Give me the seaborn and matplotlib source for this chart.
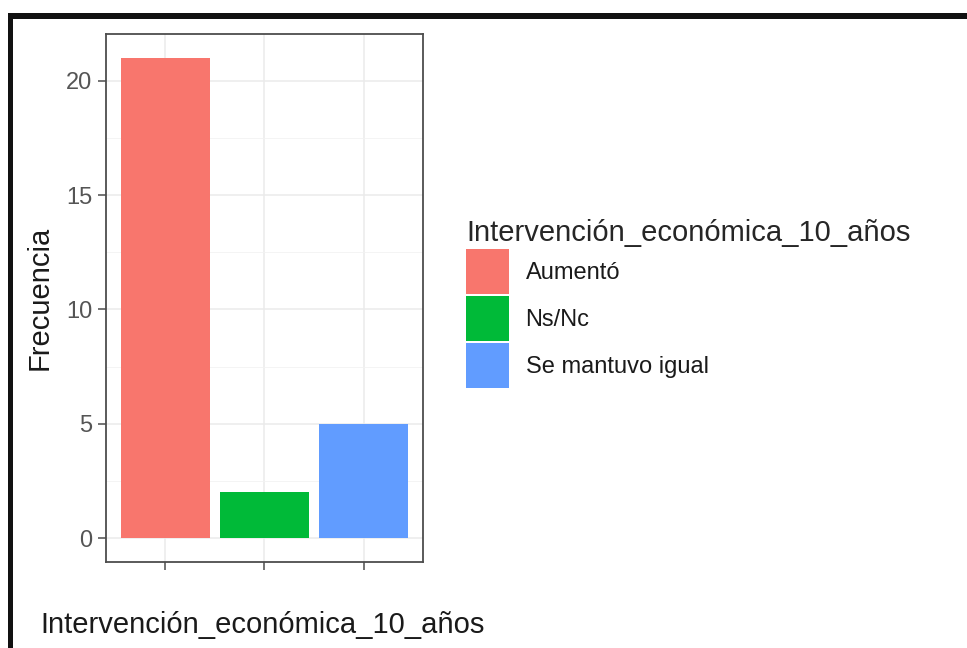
import matplotlib
matplotlib.use("Agg")
import matplotlib.pyplot as plt
from matplotlib.patches import Rectangle, Patch
from matplotlib.ticker import MultipleLocator
import seaborn as sns
import pandas as pd

# Survey answers and their counts
categorias = ["Aumentó", "Ns/Nc", "Se mantuvo igual"]
frecuencias = [21, 2, 5]
colores = ["#F8766D", "#00BA38", "#619CFF"]
variable = "Intervención_económica_10_años"
ticks_y = [0, 5, 10, 15, 20]

sns.set_theme(style="white")
plt.rcParams["font.family"] = ["Liberation Sans", "DejaVu Sans"]

df = pd.DataFrame({variable: categorias, "Frecuencia": frecuencias})

fig = plt.figure(figsize=(9.67, 6.48), dpi=100)
ax = fig.add_axes([0.1096, 0.1327, 0.3278, 0.8148])

sns.barplot(data=df, x=variable, y="Frecuencia", hue=variable,
            palette=colores, order=categorias, hue_order=categorias,
            width=0.9, saturation=1, dodge=False, legend=False, ax=ax,
            edgecolor="none", zorder=3)

ax.set_xlim(-0.6, 2.6)
ax.set_ylim(-1.05, 22.05)
ax.yaxis.set_minor_locator(MultipleLocator(2.5))
ax.set_yticks(ticks_y)
ax.set_xticks(range(len(categorias)))
ax.set_xticklabels([""] * len(categorias))

ax.grid(which="major", color="#EBEBEB", linewidth=1.1, zorder=0)
ax.grid(which="minor", axis="y", color="#F2F2F2", linewidth=0.6, zorder=0)
ax.set_axisbelow(True)

for s in ax.spines.values():
    s.set_visible(True)
    s.set_color("#4D4D4D")
    s.set_linewidth(1.3)

ax.tick_params(axis="both", which="major", length=6, width=1.1, color="#4D4D4D",
               labelsize=17, labelcolor="#555555", direction="out",
               bottom=True, left=True, pad=4)
ax.tick_params(axis="both", which="minor", length=0)

ax.set_xlabel(variable, fontsize=21, color="#1a1a1a")
ax.set_ylabel("Frecuencia", fontsize=21, color="#1a1a1a")
ax.xaxis.set_label_coords(-0.208, -0.092, transform=ax.transAxes)
ax.xaxis.label.set_horizontalalignment("left")
ax.xaxis.label.set_verticalalignment("top")
ax.yaxis.set_label_coords(-0.166, 0.5, transform=ax.transAxes)

handles = [Patch(facecolor=c, edgecolor="none", label=l)
           for c, l in zip(colores, categorias)]
leg = fig.legend(handles=handles, title=variable, loc="upper left",
                 bbox_to_anchor=(0.482, 0.662), frameon=False,
                 fontsize=17, title_fontsize=21, handlelength=1.82,
                 handleheight=2.55, handletextpad=0.7, labelspacing=0.09,
                 borderaxespad=0, borderpad=0)
leg._legend_box.align = "left"
for t in leg.get_texts():
    t.set_color("#1a1a1a")

# Thick frame on the top and left edges
fig.add_artist(Rectangle((8 / 967, 1 - 19 / 648), 1, 6 / 648,
                         transform=fig.transFigure, color="#111111", lw=0))
fig.add_artist(Rectangle((8 / 967, 0), 5 / 967, 1 - 13 / 648,
                         transform=fig.transFigure, color="#111111", lw=0))

fig.savefig("out.png", dpi=100)
